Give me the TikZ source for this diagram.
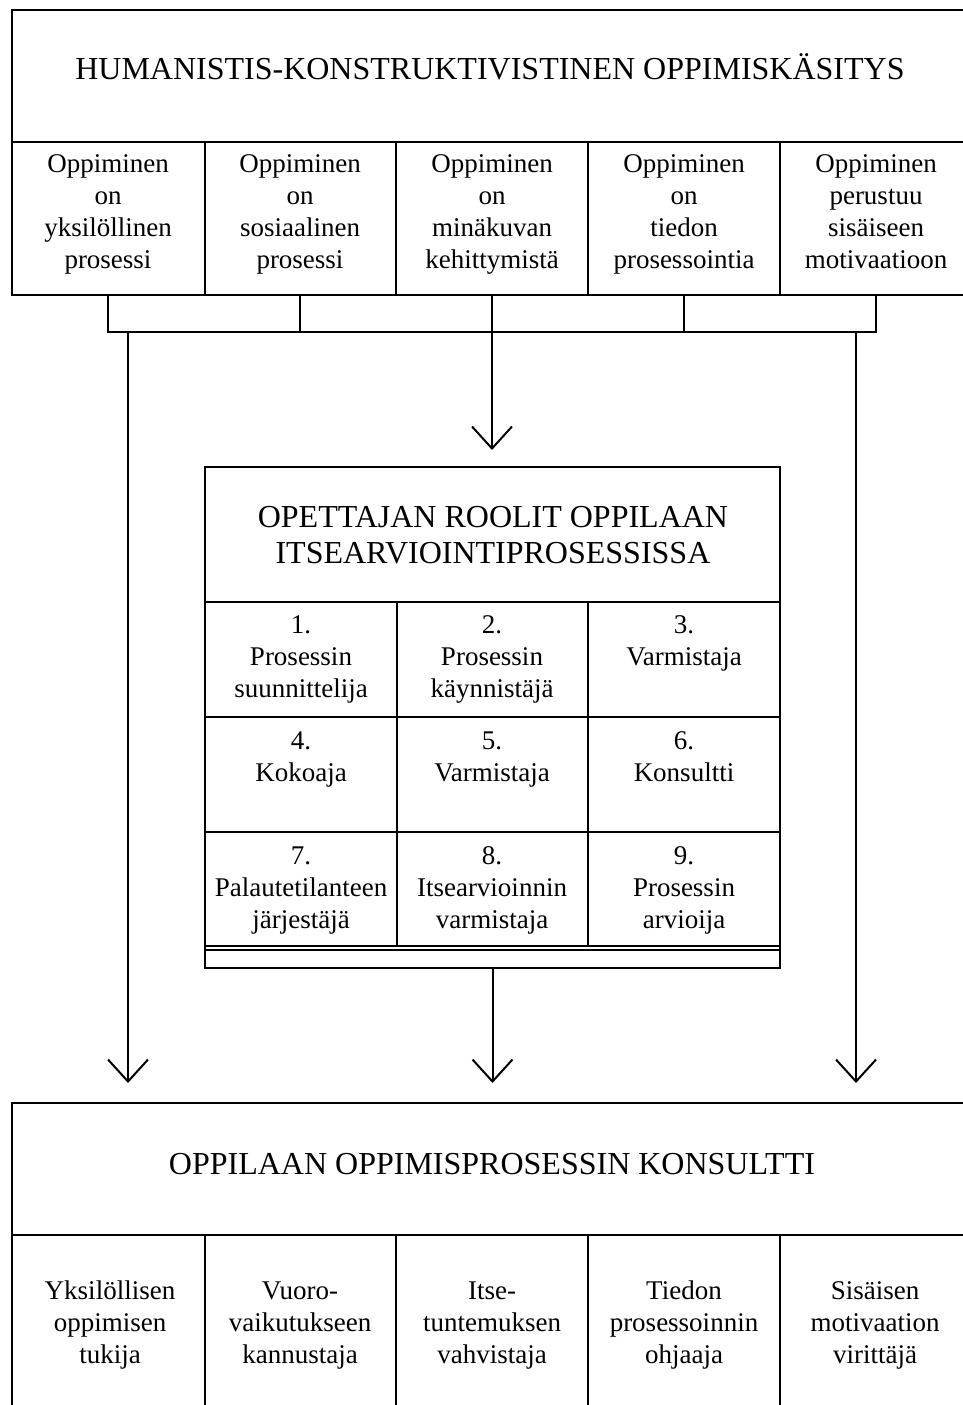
\documentclass[tikz,border=0pt]{standalone}
\usepackage{fontspec}
\setmainfont{Liberation Serif}
\usetikzlibrary{arrows.meta,fit}
\begin{document}
\begin{tikzpicture}[x=1pt,y=-1pt,
  frame/.style={line width=2pt},
  area/.style={inner sep=0pt, outer sep=0pt},
  boxn/.style={draw, line width=2pt, inner sep=0pt, outer sep=0pt},
  celltext/.style={anchor=north, align=center, inner sep=0pt, font=\fontsize{27}{32}\selectfont},
  headtext/.style={anchor=base, inner sep=0pt, font=\fontsize{32}{36}\selectfont},
  headtwo/.style={anchor=north, align=center, inner sep=0pt, font=\fontsize{32}{36}\selectfont},
  conn/.style={line width=2pt, -{Straight Barb[length=22pt,width=40pt]}}
]
\useasboundingbox (0,0) rectangle (963,1405);

% ---------- top box ----------
\node[area, fit={(12,10)(963,295)}] (top) {};
\draw[frame] (top.north east) -- (top.north west) -- (top.south west) -- (top.south east);
\draw[frame] (12,142) -- (963,142);
\foreach \x in {205,396,588,780} \draw[frame] (\x,142) -- (\x,295);
\node[headtext] (toptitle) at (490,79) {HUMANISTIS-KONSTRUKTIVISTINEN OPPIMISKÄSITYS};
\node[celltext] (t1) at (108,150) {\strut Oppiminen\\on\\yksilöllinen\\prosessi};
\node[celltext] (t2) at (300,150) {\strut Oppiminen\\on\\sosiaalinen\\prosessi};
\node[celltext] (t3) at (492,150) {\strut Oppiminen\\on\\minäkuvan\\kehittymistä};
\node[celltext] (t4) at (684,150) {\strut Oppiminen\\on\\tiedon\\prosessointia};
\node[celltext] (t5) at (876,150) {\strut Oppiminen\\perustuu\\sisäiseen\\motivaatioon};

% ---------- bracket ----------
\node[boxn, fit={(108,295)(876,332)}] (brk) {};
\foreach \x in {300,492,684} \draw[frame] (\x,295) -- (\x,332);
\coordinate (la) at (128,332);
\coordinate (ra) at (856,332);

% ---------- middle box ----------
\node[boxn, fit={(205,467)(780,968)}] (mid) {};
\draw[frame] (205,602) -- (780,602);
\draw[frame] (205,717) -- (780,717);
\draw[frame] (205,832) -- (780,832);
\draw[frame] (205,946) -- (780,946);
\draw[frame] (205,949.5) -- (780,949.5);
\foreach \x in {397,588} \draw[frame] (\x,602) -- (\x,946);
\node[headtwo] (midtitle) at (493,502) {\strut OPETTAJAN ROOLIT OPPILAAN\\ITSEARVIOINTIPROSESSISSA};
\node[celltext] (m1) at (301,611) {\strut 1.\\Prosessin\\suunnittelija};
\node[celltext] (m2) at (492,611) {\strut 2.\\Prosessin\\käynnistäjä};
\node[celltext] (m3) at (684,611) {\strut 3.\\Varmistaja};
\node[celltext] (m4) at (301,727) {\strut 4.\\Kokoaja};
\node[celltext] (m5) at (492,727) {\strut 5.\\Varmistaja};
\node[celltext] (m6) at (684,727) {\strut 6.\\Konsultti};
\node[celltext] (m7) at (301,842) {\strut 7.\\Palautetilanteen\\järjestäjä};
\node[celltext] (m8) at (492,842) {\strut 8.\\Itsearvioinnin\\varmistaja};
\node[celltext] (m9) at (684,842) {\strut 9.\\Prosessin\\arvioija};

% ---------- bottom box ----------
\node[area, fit={(12,1103)(963,1405)}] (bot) {};
\draw[frame] (bot.north east) -- (bot.north west) -- (bot.south west);
\draw[frame] (12,1235) -- (963,1235);
\foreach \x in {205,396,588,780} \draw[frame] (\x,1235) -- (\x,1405);
\node[headtext] (bottitle) at (492,1174) {OPPILAAN OPPIMISPROSESSIN KONSULTTI};
\node[celltext] (b1) at (110,1277) {\strut Yksilöllisen\\oppimisen\\tukija};
\node[celltext] (b2) at (300,1277) {\strut Vuoro-\\vaikutukseen\\kannustaja};
\node[celltext] (b3) at (492,1277) {\strut Itse-\\tuntemuksen\\vahvistaja};
\node[celltext] (b4) at (684,1277) {\strut Tiedon\\prosessoinnin\\ohjaaja};
\node[celltext] (b5) at (875,1277) {\strut Sisäisen\\motivaation\\virittäjä};

% ---------- connectors ----------
\draw[conn, shorten >=17pt] (brk.south) -- (brk.south |- mid.north);
\draw[conn, shorten >=20pt] (la) -- (la |- bot.north);
\draw[conn, shorten >=20pt] (ra) -- (ra |- bot.north);
\draw[conn, shorten >=20pt] (mid.south) -- (mid.south |- bot.north);
\end{tikzpicture}
\end{document}
